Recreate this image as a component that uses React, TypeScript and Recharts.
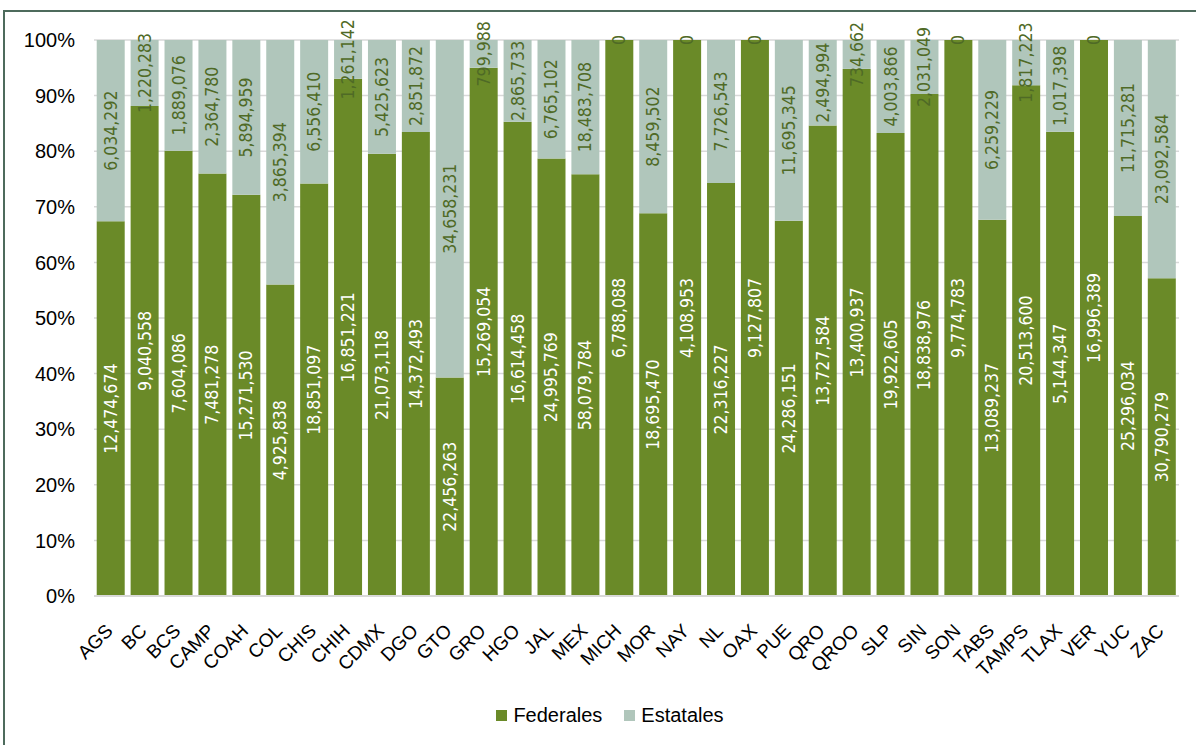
import { Bar, BarChart, CartesianGrid, LabelList, Legend, XAxis, YAxis } from "recharts"

const estados = [
  "AGS", "BC", "BCS", "CAMP", "COAH", "COL", "CHIS", "CHIH", "CDMX", "DGO", "GTO",
  "GRO", "HGO", "JAL", "MEX", "MICH", "MOR", "NAY", "NL", "OAX", "PUE", "QRO",
  "QROO", "SLP", "SIN", "SON", "TABS", "TAMPS", "TLAX", "VER", "YUC", "ZAC",
]

const federales = [
  12474674, 9040558, 7604086, 7481278, 15271530, 4925838, 18851097, 16851221, 21073118,
  14372493, 22456263, 15269054, 16614458, 24995769, 58079784, 6788088, 18695470, 4108953,
  22316227, 9127807, 24286151, 13727584, 13400937, 19922605, 18838976, 9774783, 13089237,
  20513600, 5144347, 16996389, 25296034, 30790279,
]

const estatales = [
  6034292, 1220283, 1889076, 2364780, 5894959, 3865394, 6556410, 1261142, 5425623,
  2851872, 34658231, 799988, 2865733, 6765102, 18483708, 0, 8459502, 0,
  7726543, 0, 11695345, 2494994, 734662, 4003866, 2031049, 0, 6259229,
  1817223, 1017398, 0, 11715281, 23092584,
]

const yTicks = [0, 0.1, 0.2, 0.3, 0.4, 0.5, 0.6, 0.7, 0.8, 0.9, 1]

const data = estados.map((estado, i) => ({
  estado,
  Federales: federales[i],
  Estatales: estatales[i],
}))

const COLOR_FED = "#6a8a28"
const COLOR_EST = "#b0c6bb"
const LABEL_DARK = "#4f6a26"
const AXIS_FONT = "'Liberation Sans', Arial, sans-serif"
const LABEL_FONT = "'DejaVu Sans Condensed', 'DejaVu Sans', sans-serif"

const fmt = (v: number) => Number(v).toLocaleString("en-US")

const rotatedText = (cx: number, cy: number, text: string, color: string, key?: string) => (
  <text
    key={key}
    x={cx}
    y={cy}
    transform={`rotate(-90 ${cx} ${cy})`}
    textAnchor="middle"
    dominantBaseline="central"
    fill={color}
    fontSize={17.5}
    fontFamily={LABEL_FONT}
    style={{ fontStretch: "condensed" }}
  >
    {text}
  </text>
)

// federal label, plus the "0" of an empty estatal segment sitting on top of the bar
const fedLabel = (props: any) => {
  const { x, y, width, height, value, index } = props
  const cx = Number(x) + Number(width) / 2
  const cy = Number(y) + Number(height) / 2
  const top = Math.min(Number(y), Number(y) + Number(height))
  const showZero = estatales[index] === 0
  return (
    <g>
      {rotatedText(cx, cy, fmt(value), "#ffffff")}
      {showZero && rotatedText(cx, top, "0", LABEL_DARK)}
    </g>
  )
}

const estLabel = (props: any) => {
  const { x, y, width, height, value } = props
  if (!value) return null
  const cx = Number(x) + Number(width) / 2
  const cy = Number(y) + Number(height) / 2
  return rotatedText(cx, cy, fmt(value), LABEL_DARK)
}

const EstadoTick = (props: any) => {
  const { x, y, payload } = props
  const ax = x + 3
  const ay = y + 28
  return (
    <text
      x={ax}
      y={ay}
      transform={`rotate(-45 ${ax} ${ay})`}
      textAnchor="end"
      fontSize={19}
      fontFamily={AXIS_FONT}
      fill="#000"
    >
      {payload.value}
    </text>
  )
}

const LegendBox = () => (
  <div
    style={{
      display: "flex",
      justifyContent: "center",
      alignItems: "center",
      height: 40,
      paddingLeft: 24,
      fontFamily: AXIS_FONT,
      fontSize: 20,
      color: "#000",
    }}
  >
    {[
      { name: "Federales", color: COLOR_FED },
      { name: "Estatales", color: COLOR_EST },
    ].map((item, i) => (
      <span key={item.name} style={{ display: "flex", alignItems: "center", marginLeft: i ? 22 : 0 }}>
        <span style={{ width: 11, height: 11, background: item.color, marginRight: 6, display: "inline-block" }} />
        {item.name}
      </span>
    ))}
  </div>
)

export default function App() {
  return (
    <div
      style={{
        position: "absolute",
        left: 0,
        top: 0,
        width: 1196,
        height: 745,
        overflow: "hidden",
        background: "#fff",
      }}
    >
      <div
        style={{
          position: "absolute",
          left: 3,
          top: 10,
          width: 1193,
          height: 735,
          borderTop: "2px solid #4d6b5c",
          borderLeft: "2px solid #4d6b5c",
          boxSizing: "border-box",
        }}
      />
      <div style={{ position: "absolute", left: 0, top: 0 }}>
        <BarChart
          width={1196}
          height={745}
          data={data}
          stackOffset="expand"
          barCategoryGap="8%"
          margin={{ top: 40, right: 17, left: 0, bottom: 10 }}
        >
          <CartesianGrid vertical={false} stroke="#d9d9d9" strokeWidth={1.5} />
          <XAxis
            dataKey="estado"
            interval={0}
            height={99}
            tickLine={false}
            axisLine={{ stroke: "#d9d9d9", strokeWidth: 2 }}
            tick={<EstadoTick />}
          />
          <YAxis
            width={94}
            domain={[0, 1]}
            ticks={yTicks}
            tickFormatter={(v: number) => `${Math.round(v * 100)}%`}
            axisLine={false}
            tickLine={false}
            tickMargin={13}
            tick={{ fontSize: 20, fontFamily: AXIS_FONT, fill: "#000" }}
          />
          <Legend
            verticalAlign="bottom"
            height={40}
            wrapperStyle={{ left: 0, width: 1196 }}
            content={() => <LegendBox />}
          />
          <Bar dataKey="Federales" stackId="a" fill={COLOR_FED} isAnimationActive={false}>
            <LabelList dataKey="Federales" content={fedLabel} />
          </Bar>
          <Bar dataKey="Estatales" stackId="a" fill={COLOR_EST} isAnimationActive={false}>
            <LabelList dataKey="Estatales" content={estLabel} />
          </Bar>
        </BarChart>
      </div>
    </div>
  )
}
